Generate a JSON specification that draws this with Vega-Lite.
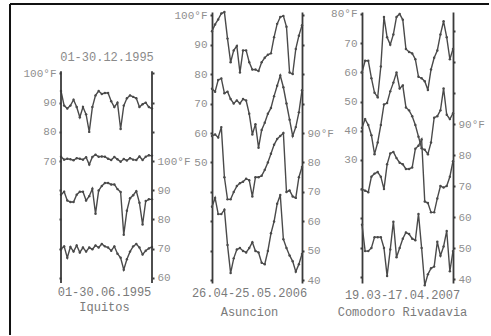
{
"$schema": "https://vega.github.io/schema/vega-lite/v6.json",
"background": "white",
"padding": {"left": 9, "top": 2, "right": 0, "bottom": 0},
"autosize": {"type": "pad"},
"bounds": "flush",
"spacing": 60,
"config": {
  "view": {"stroke": null},
  "axis": {"labelFont": "Liberation Mono", "labelFontSize": 11, "labelColor": "#8f8f8f", "domainColor": "#3a3a3a", "domainWidth": 1.8, "tickColor": "#3a3a3a", "tickWidth": 2, "tickSize": 2, "labelPadding": 3, "grid": false, "labelOverlap": false, "titleFont": "Liberation Mono", "titleFontSize": 12, "titleFontWeight": "normal", "titleColor": "#7a7a7a"}
},
"datasets": {
"iquitos": [
{"s":"Dec max","d":1,"t":94},{"s":"Dec max","d":2,"t":89},{"s":"Dec max","d":3,"t":88},{"s":"Dec max","d":4,"t":89},{"s":"Dec max","d":5,"t":91},{"s":"Dec max","d":6,"t":88.5},{"s":"Dec max","d":7,"t":85},{"s":"Dec max","d":8,"t":88.5},{"s":"Dec max","d":9,"t":86},{"s":"Dec max","d":10,"t":80},{"s":"Dec max","d":11,"t":88.5},{"s":"Dec max","d":12,"t":92.5},{"s":"Dec max","d":13,"t":94},{"s":"Dec max","d":14,"t":93},{"s":"Dec max","d":15,"t":93.3},{"s":"Dec max","d":16,"t":93.3},{"s":"Dec max","d":17,"t":90.5},{"s":"Dec max","d":18,"t":88.5},{"s":"Dec max","d":19,"t":90},{"s":"Dec max","d":20,"t":81},{"s":"Dec max","d":21,"t":89},{"s":"Dec max","d":22,"t":91.5},{"s":"Dec max","d":23,"t":92.5},{"s":"Dec max","d":24,"t":92},{"s":"Dec max","d":25,"t":91.5},{"s":"Dec max","d":26,"t":88.5},{"s":"Dec max","d":27,"t":89.5},{"s":"Dec max","d":28,"t":90},{"s":"Dec max","d":29,"t":88.5},{"s":"Dec max","d":30,"t":88},
{"s":"Dec min","d":1,"t":71.5},{"s":"Dec min","d":2,"t":70.5},{"s":"Dec min","d":3,"t":70.8},{"s":"Dec min","d":4,"t":70.6},{"s":"Dec min","d":5,"t":70.3},{"s":"Dec min","d":6,"t":71},{"s":"Dec min","d":7,"t":70.8},{"s":"Dec min","d":8,"t":70.5},{"s":"Dec min","d":9,"t":71.3},{"s":"Dec min","d":10,"t":68.8},{"s":"Dec min","d":11,"t":71.4},{"s":"Dec min","d":12,"t":72.2},{"s":"Dec min","d":13,"t":71.5},{"s":"Dec min","d":14,"t":71.6},{"s":"Dec min","d":15,"t":71.5},{"s":"Dec min","d":16,"t":70.8},{"s":"Dec min","d":17,"t":70.4},{"s":"Dec min","d":18,"t":71.4},{"s":"Dec min","d":19,"t":70.6},{"s":"Dec min","d":20,"t":69.8},{"s":"Dec min","d":21,"t":70.7},{"s":"Dec min","d":22,"t":70.2},{"s":"Dec min","d":23,"t":71},{"s":"Dec min","d":24,"t":70.5},{"s":"Dec min","d":25,"t":70.4},{"s":"Dec min","d":26,"t":71.6},{"s":"Dec min","d":27,"t":70.4},{"s":"Dec min","d":28,"t":71.5},{"s":"Dec min","d":29,"t":72},{"s":"Dec min","d":30,"t":71.8},
{"s":"Jun max","d":1,"t":88.5},{"s":"Jun max","d":2,"t":89.5},{"s":"Jun max","d":3,"t":86.5},{"s":"Jun max","d":4,"t":86},{"s":"Jun max","d":5,"t":86},{"s":"Jun max","d":6,"t":88.5},{"s":"Jun max","d":7,"t":89.5},{"s":"Jun max","d":8,"t":89.5},{"s":"Jun max","d":9,"t":86.5},{"s":"Jun max","d":10,"t":88},{"s":"Jun max","d":11,"t":90.5},{"s":"Jun max","d":12,"t":82},{"s":"Jun max","d":13,"t":89.9},{"s":"Jun max","d":14,"t":91.5},{"s":"Jun max","d":15,"t":92.5},{"s":"Jun max","d":16,"t":92.5},{"s":"Jun max","d":17,"t":92},{"s":"Jun max","d":18,"t":92},{"s":"Jun max","d":19,"t":90.4},{"s":"Jun max","d":20,"t":89.4},{"s":"Jun max","d":21,"t":74.8},{"s":"Jun max","d":22,"t":83},{"s":"Jun max","d":23,"t":87.3},{"s":"Jun max","d":24,"t":88.3},{"s":"Jun max","d":25,"t":89.7},{"s":"Jun max","d":26,"t":85.7},{"s":"Jun max","d":27,"t":78.3},{"s":"Jun max","d":28,"t":86.3},{"s":"Jun max","d":29,"t":86.9},{"s":"Jun max","d":30,"t":86.9},
{"s":"Jun min","d":1,"t":69.8},{"s":"Jun min","d":2,"t":70.8},{"s":"Jun min","d":3,"t":66.9},{"s":"Jun min","d":4,"t":70.6},{"s":"Jun min","d":5,"t":69},{"s":"Jun min","d":6,"t":71.1},{"s":"Jun min","d":7,"t":68.7},{"s":"Jun min","d":8,"t":70.4},{"s":"Jun min","d":9,"t":69},{"s":"Jun min","d":10,"t":70.4},{"s":"Jun min","d":11,"t":69.8},{"s":"Jun min","d":12,"t":71.1},{"s":"Jun min","d":13,"t":70.4},{"s":"Jun min","d":14,"t":71.6},{"s":"Jun min","d":15,"t":70.8},{"s":"Jun min","d":16,"t":70.4},{"s":"Jun min","d":17,"t":69.3},{"s":"Jun min","d":18,"t":70.8},{"s":"Jun min","d":19,"t":68.3},{"s":"Jun min","d":20,"t":66.9},{"s":"Jun min","d":21,"t":62.8},{"s":"Jun min","d":22,"t":66.4},{"s":"Jun min","d":23,"t":69},{"s":"Jun min","d":24,"t":70.8},{"s":"Jun min","d":25,"t":71.6},{"s":"Jun min","d":26,"t":70.4},{"s":"Jun min","d":27,"t":68},{"s":"Jun min","d":28,"t":69.3},{"s":"Jun min","d":29,"t":70.1},{"s":"Jun min","d":30,"t":70.6}
],
"asuncion": [
{"s":"s1","d":1,"t":94.5},{"s":"s1","d":2,"t":96.8},{"s":"s1","d":3,"t":98.5},{"s":"s1","d":4,"t":100.5},{"s":"s1","d":5,"t":101},{"s":"s1","d":6,"t":92},{"s":"s1","d":7,"t":84},{"s":"s1","d":8,"t":88},{"s":"s1","d":9,"t":89.5},{"s":"s1","d":10,"t":80.5},{"s":"s1","d":11,"t":88},{"s":"s1","d":12,"t":88},{"s":"s1","d":13,"t":84},{"s":"s1","d":14,"t":81.5},{"s":"s1","d":15,"t":81.5},{"s":"s1","d":16,"t":81},{"s":"s1","d":17,"t":84},{"s":"s1","d":18,"t":85.5},{"s":"s1","d":19,"t":86.5},{"s":"s1","d":20,"t":87},{"s":"s1","d":21,"t":92.5},{"s":"s1","d":22,"t":97},{"s":"s1","d":23,"t":99.3},{"s":"s1","d":24,"t":99.7},{"s":"s1","d":25,"t":96},{"s":"s1","d":26,"t":80.5},{"s":"s1","d":27,"t":80},{"s":"s1","d":28,"t":88.5},{"s":"s1","d":29,"t":93},{"s":"s1","d":30,"t":96.5},
{"s":"s2","d":1,"t":75},{"s":"s2","d":2,"t":74},{"s":"s2","d":3,"t":78},{"s":"s2","d":4,"t":78.5},{"s":"s2","d":5,"t":73.5},{"s":"s2","d":6,"t":74},{"s":"s2","d":7,"t":71.5},{"s":"s2","d":8,"t":70},{"s":"s2","d":9,"t":71},{"s":"s2","d":10,"t":70},{"s":"s2","d":11,"t":71.5},{"s":"s2","d":12,"t":71},{"s":"s2","d":13,"t":66.5},{"s":"s2","d":14,"t":59.5},{"s":"s2","d":15,"t":63},{"s":"s2","d":16,"t":55},{"s":"s2","d":17,"t":61},{"s":"s2","d":18,"t":63.5},{"s":"s2","d":19,"t":66.5},{"s":"s2","d":20,"t":68.5},{"s":"s2","d":21,"t":72.5},{"s":"s2","d":22,"t":76},{"s":"s2","d":23,"t":79.5},{"s":"s2","d":24,"t":75.5},{"s":"s2","d":25,"t":70},{"s":"s2","d":26,"t":64.5},{"s":"s2","d":27,"t":59},{"s":"s2","d":28,"t":62},{"s":"s2","d":29,"t":67},{"s":"s2","d":30,"t":74.5},
{"s":"s3","d":1,"t":89},{"s":"s3","d":2,"t":89.5},{"s":"s3","d":3,"t":88.5},{"s":"s3","d":4,"t":92},{"s":"s3","d":5,"t":75},{"s":"s3","d":6,"t":67.5},{"s":"s3","d":7,"t":67.5},{"s":"s3","d":8,"t":70},{"s":"s3","d":9,"t":72},{"s":"s3","d":10,"t":73},{"s":"s3","d":11,"t":73.5},{"s":"s3","d":12,"t":74.5},{"s":"s3","d":13,"t":74},{"s":"s3","d":14,"t":68.5},{"s":"s3","d":15,"t":75},{"s":"s3","d":16,"t":75},{"s":"s3","d":17,"t":75.5},{"s":"s3","d":18,"t":77.5},{"s":"s3","d":19,"t":80},{"s":"s3","d":20,"t":83},{"s":"s3","d":21,"t":86},{"s":"s3","d":22,"t":88},{"s":"s3","d":23,"t":89},{"s":"s3","d":24,"t":90},{"s":"s3","d":25,"t":70},{"s":"s3","d":26,"t":70.5},{"s":"s3","d":27,"t":68.5},{"s":"s3","d":28,"t":68},{"s":"s3","d":29,"t":75},{"s":"s3","d":30,"t":78.5},
{"s":"s4","d":1,"t":65},{"s":"s4","d":2,"t":68},{"s":"s4","d":3,"t":62.5},{"s":"s4","d":4,"t":62.5},{"s":"s4","d":5,"t":64},{"s":"s4","d":6,"t":52},{"s":"s4","d":7,"t":42.5},{"s":"s4","d":8,"t":47.5},{"s":"s4","d":9,"t":50.5},{"s":"s4","d":10,"t":51},{"s":"s4","d":11,"t":50},{"s":"s4","d":12,"t":49.5},{"s":"s4","d":13,"t":51},{"s":"s4","d":14,"t":53},{"s":"s4","d":15,"t":50},{"s":"s4","d":16,"t":49.5},{"s":"s4","d":17,"t":46},{"s":"s4","d":18,"t":45.5},{"s":"s4","d":19,"t":50},{"s":"s4","d":20,"t":56},{"s":"s4","d":21,"t":60},{"s":"s4","d":22,"t":66},{"s":"s4","d":23,"t":69},{"s":"s4","d":24,"t":54},{"s":"s4","d":25,"t":51},{"s":"s4","d":26,"t":48.5},{"s":"s4","d":27,"t":46.5},{"s":"s4","d":28,"t":43},{"s":"s4","d":29,"t":45.5},{"s":"s4","d":30,"t":49}
],
"comodoro": [
{"s":"s1","d":1,"t":60},{"s":"s1","d":2,"t":64},{"s":"s1","d":3,"t":64},{"s":"s1","d":4,"t":58},{"s":"s1","d":5,"t":53},{"s":"s1","d":6,"t":51.5},{"s":"s1","d":7,"t":62},{"s":"s1","d":8,"t":79},{"s":"s1","d":9,"t":72},{"s":"s1","d":10,"t":69.5},{"s":"s1","d":11,"t":73},{"s":"s1","d":12,"t":79},{"s":"s1","d":13,"t":80},{"s":"s1","d":14,"t":78},{"s":"s1","d":15,"t":68},{"s":"s1","d":16,"t":67},{"s":"s1","d":17,"t":66.5},{"s":"s1","d":18,"t":64.5},{"s":"s1","d":19,"t":58.5},{"s":"s1","d":20,"t":58},{"s":"s1","d":21,"t":57},{"s":"s1","d":22,"t":54},{"s":"s1","d":23,"t":61},{"s":"s1","d":24,"t":65},{"s":"s1","d":25,"t":67.5},{"s":"s1","d":26,"t":73},{"s":"s1","d":27,"t":77.5},{"s":"s1","d":28,"t":72},{"s":"s1","d":29,"t":64.5},{"s":"s1","d":30,"t":68},
{"s":"s2","d":1,"t":41},{"s":"s2","d":2,"t":44},{"s":"s2","d":3,"t":42},{"s":"s2","d":4,"t":38.5},{"s":"s2","d":5,"t":32},{"s":"s2","d":6,"t":36},{"s":"s2","d":7,"t":42},{"s":"s2","d":8,"t":49},{"s":"s2","d":9,"t":49.5},{"s":"s2","d":10,"t":53.5},{"s":"s2","d":11,"t":56.5},{"s":"s2","d":12,"t":60},{"s":"s2","d":13,"t":54.5},{"s":"s2","d":14,"t":55.5},{"s":"s2","d":15,"t":48},{"s":"s2","d":16,"t":47},{"s":"s2","d":17,"t":45},{"s":"s2","d":18,"t":42},{"s":"s2","d":19,"t":38},{"s":"s2","d":20,"t":34},{"s":"s2","d":21,"t":33.5},{"s":"s2","d":22,"t":32},{"s":"s2","d":23,"t":36},{"s":"s2","d":24,"t":44.5},{"s":"s2","d":25,"t":45},{"s":"s2","d":26,"t":47},{"s":"s2","d":27,"t":54.5},{"s":"s2","d":28,"t":45.5},{"s":"s2","d":29,"t":44},{"s":"s2","d":30,"t":46},
{"s":"s3","d":1,"t":69},{"s":"s3","d":2,"t":68.5},{"s":"s3","d":3,"t":68},{"s":"s3","d":4,"t":73},{"s":"s3","d":5,"t":74},{"s":"s3","d":6,"t":74.5},{"s":"s3","d":7,"t":73},{"s":"s3","d":8,"t":69},{"s":"s3","d":9,"t":77},{"s":"s3","d":10,"t":80.5},{"s":"s3","d":11,"t":81},{"s":"s3","d":12,"t":79},{"s":"s3","d":13,"t":77.5},{"s":"s3","d":14,"t":77},{"s":"s3","d":15,"t":75.5},{"s":"s3","d":16,"t":75.5},{"s":"s3","d":17,"t":76},{"s":"s3","d":18,"t":82},{"s":"s3","d":19,"t":83},{"s":"s3","d":20,"t":85},{"s":"s3","d":21,"t":65},{"s":"s3","d":22,"t":64.5},{"s":"s3","d":23,"t":61.5},{"s":"s3","d":24,"t":61.5},{"s":"s3","d":25,"t":66},{"s":"s3","d":26,"t":70},{"s":"s3","d":27,"t":69.5},{"s":"s3","d":28,"t":70},{"s":"s3","d":29,"t":73},{"s":"s3","d":30,"t":78},
{"s":"s4","d":1,"t":57.5},{"s":"s4","d":2,"t":49},{"s":"s4","d":3,"t":49},{"s":"s4","d":4,"t":50},{"s":"s4","d":5,"t":53.5},{"s":"s4","d":6,"t":53.5},{"s":"s4","d":7,"t":53.5},{"s":"s4","d":8,"t":50},{"s":"s4","d":9,"t":41},{"s":"s4","d":10,"t":49.5},{"s":"s4","d":11,"t":58.5},{"s":"s4","d":12,"t":47},{"s":"s4","d":13,"t":50},{"s":"s4","d":14,"t":53},{"s":"s4","d":15,"t":55},{"s":"s4","d":16,"t":54.5},{"s":"s4","d":17,"t":53},{"s":"s4","d":18,"t":52.5},{"s":"s4","d":19,"t":61},{"s":"s4","d":20,"t":50},{"s":"s4","d":21,"t":38},{"s":"s4","d":22,"t":41.5},{"s":"s4","d":23,"t":43.5},{"s":"s4","d":24,"t":44},{"s":"s4","d":25,"t":52},{"s":"s4","d":26,"t":47.5},{"s":"s4","d":27,"t":50.5},{"s":"s4","d":28,"t":55.5},{"s":"s4","d":29,"t":42.5},{"s":"s4","d":30,"t":49}
]
},
"hconcat": [
{
  "width": 91, "height": 271,
  "data": {"name": "iquitos"},
  "layer": [
    {
      "transform": [{"filter": {"field": "s", "oneOf": ["Dec max", "Dec min"]}}],
      "mark": {"type": "line", "color": "#4a4a4a", "strokeWidth": 1.4, "point": {"filled": true, "size": 6, "color": "#4a4a4a"}},
      "encoding": {
        "x": {"field": "d", "type": "quantitative", "scale": {"domain": [1, 30], "nice": false, "zero": false}, "axis": {"domain": false, "ticks": false, "labels": false, "title": ["01-30.06.1995", "Iquitos\u00a0\u00a0"], "titlePadding": 3, "titleLineHeight": 15, "titleX": 43}},
        "y": {"field": "t", "type": "quantitative", "scale": {"domain": [28.25, 121.06], "nice": false, "zero": false}, "axis": {"orient": "left", "domain": false, "title": null, "values": [30, 40, 50, 60, 70, 80, 90, 100], "labelExpr": "datum.value == 100 ? '100°F' : (datum.value >= 70 ? datum.label : '')"}},
        "detail": {"field": "s"}
      }
    },
    {
      "transform": [{"filter": {"field": "s", "oneOf": ["Jun max", "Jun min"]}}],
      "mark": {"type": "line", "color": "#4a4a4a", "strokeWidth": 1.4, "point": {"filled": true, "size": 6, "color": "#4a4a4a"}},
      "encoding": {
        "x": {"field": "d", "type": "quantitative", "scale": {"domain": [1, 30], "nice": false, "zero": false}, "axis": {"domain": false, "ticks": false, "labels": false, "title": ["01-30.06.1995", "Iquitos\u00a0\u00a0"], "titlePadding": 3, "titleLineHeight": 15, "titleX": 43}},
        "y": {"field": "t", "type": "quantitative", "scale": {"domain": [58.25, 151.06], "nice": false, "zero": false}, "axis": {"orient": "right", "domain": false, "title": null, "values": [60, 70, 80, 90, 100, 110, 120, 130], "labelExpr": "datum.value == 100 ? '100°F' : (datum.value <= 100 ? datum.label : '')"}},
        "detail": {"field": "s"}
      }
    },
    {
      "data": {"values": [{}]},
      "mark": {"type": "rule", "color": "#3a3a3a", "strokeWidth": 1.8, "clip": false},
      "encoding": {
        "x": {"datum": 1, "type": "quantitative", "scale": {"domain": [1, 30], "nice": false, "zero": false}, "axis": {"domain": false, "ticks": false, "labels": false, "title": ["01-30.06.1995", "Iquitos\u00a0\u00a0"], "titlePadding": 3, "titleLineHeight": 15, "titleX": 43}},
        "y": {"datum": 28.25, "type": "quantitative", "scale": {"domain": [28.25, 121.06], "nice": false, "zero": false}, "axis": null},
        "y2": {"datum": 100.8}
      }
    },
    {
      "data": {"values": [{}]},
      "mark": {"type": "rule", "color": "#3a3a3a", "strokeWidth": 1.8, "clip": false},
      "encoding": {
        "x": {"datum": 30, "type": "quantitative", "scale": {"domain": [1, 30], "nice": false, "zero": false}, "axis": {"domain": false, "ticks": false, "labels": false, "title": ["01-30.06.1995", "Iquitos\u00a0\u00a0"], "titlePadding": 3, "titleLineHeight": 15, "titleX": 43}},
        "y": {"datum": 28.25, "type": "quantitative", "scale": {"domain": [28.25, 121.06], "nice": false, "zero": false}, "axis": null},
        "y2": {"datum": 100.8}
      }
    },
    {
      "data": {"values": [{}]},
      "mark": {"type": "rule", "color": "#111111", "strokeWidth": 2, "clip": false},
      "encoding": {
        "x": {"datum": -15.25, "type": "quantitative", "scale": {"domain": [1, 30], "nice": false, "zero": false}, "axis": {"domain": false, "ticks": false, "labels": false, "title": ["01-30.06.1995", "Iquitos\u00a0\u00a0"], "titlePadding": 3, "titleLineHeight": 15, "titleX": 43}},
        "x2": {"datum": 137.4},
        "y": {"datum": 123.8, "type": "quantitative", "scale": {"domain": [28.25, 121.06], "nice": false, "zero": false}, "axis": null}
      }
    },
    {
      "data": {"values": [{}]},
      "mark": {"type": "rule", "color": "#111111", "strokeWidth": 2, "clip": false},
      "encoding": {
        "x": {"datum": -15.25, "type": "quantitative", "scale": {"domain": [1, 30], "nice": false, "zero": false}, "axis": {"domain": false, "ticks": false, "labels": false, "title": ["01-30.06.1995", "Iquitos\u00a0\u00a0"], "titlePadding": 3, "titleLineHeight": 15, "titleX": 43}},
        "y": {"datum": 123.8, "type": "quantitative", "scale": {"domain": [28.25, 121.06], "nice": false, "zero": false}, "axis": null},
        "y2": {"datum": 10.45}
      }
    },
    {
      "data": {"values": [{}]},
      "mark": {"type": "text", "text": "01-30.12.1995", "font": "Liberation Mono", "fontSize": 12, "color": "#8a8a8a", "align": "center", "baseline": "middle", "clip": false},
      "encoding": {
        "x": {"datum": 15.66, "type": "quantitative", "scale": {"domain": [1, 30], "nice": false, "zero": false}, "axis": {"domain": false, "ticks": false, "labels": false, "title": ["01-30.06.1995", "Iquitos\u00a0\u00a0"], "titlePadding": 3, "titleLineHeight": 15, "titleX": 43}},
        "y": {"datum": 105.65, "type": "quantitative", "scale": {"domain": [28.25, 121.06], "nice": false, "zero": false}, "axis": null}
      }
    }
  ],
  "resolve": {"scale": {"y": "independent"}}
},
{
  "width": 90, "height": 271,
  "data": {"name": "asuncion"},
  "layer": [
    {
      "transform": [{"filter": {"field": "s", "oneOf": ["s1", "s2"]}}],
      "mark": {"type": "line", "color": "#4a4a4a", "strokeWidth": 1.4, "clip": false, "point": {"filled": true, "size": 6, "color": "#4a4a4a", "clip": false}},
      "encoding": {
        "x": {"field": "d", "type": "quantitative", "scale": {"domain": [1, 30], "nice": false, "zero": false}, "axis": {"domain": false, "ticks": false, "labels": false, "title": ["26.04-25.05.2006", "Asuncion"], "titlePadding": 4, "titleLineHeight": 19, "titleX": 37}},
        "y": {"field": "t", "type": "quantitative", "scale": {"domain": [9.15, 101.02], "nice": false, "zero": false}, "axis": {"orient": "left", "title": null, "values": [10, 20, 30, 40, 50, 60, 70, 80, 90, 100], "labelExpr": "datum.value == 100 ? '100°F' : (datum.value >= 50 ? datum.label : '')"}},
        "detail": {"field": "s"}
      }
    },
    {
      "transform": [{"filter": {"field": "s", "oneOf": ["s3", "s4"]}}],
      "mark": {"type": "line", "color": "#4a4a4a", "strokeWidth": 1.4, "point": {"filled": true, "size": 6, "color": "#4a4a4a"}},
      "encoding": {
        "x": {"field": "d", "type": "quantitative", "scale": {"domain": [1, 30], "nice": false, "zero": false}, "axis": {"domain": false, "ticks": false, "labels": false, "title": ["26.04-25.05.2006", "Asuncion"], "titlePadding": 4, "titleLineHeight": 19, "titleX": 37}},
        "y": {"field": "t", "type": "quantitative", "scale": {"domain": [39.15, 131.02], "nice": false, "zero": false}, "axis": {"orient": "right", "title": null, "values": [40, 50, 60, 70, 80, 90, 100, 110, 120, 130], "labelExpr": "datum.value == 90 ? '90°F' : (datum.value <= 90 ? datum.label : '')"}},
        "detail": {"field": "s"}
      }
    }
  ],
  "resolve": {"scale": {"y": "independent"}}
},
{
  "width": 91, "height": 271,
  "data": {"name": "comodoro"},
  "layer": [
    {
      "transform": [{"filter": {"field": "s", "oneOf": ["s1", "s2"]}}],
      "mark": {"type": "line", "color": "#4a4a4a", "strokeWidth": 1.4, "point": {"filled": true, "size": 6, "color": "#4a4a4a"}},
      "encoding": {
        "x": {"field": "d", "type": "quantitative", "scale": {"domain": [1, 30], "nice": false, "zero": false}, "axis": {"domain": false, "ticks": false, "labels": false, "title": ["19.03-17.04.2007", "Comodoro Rivadavia"], "titlePadding": 6, "titleLineHeight": 17, "titleX": 40}},
        "y": {"field": "t", "type": "quantitative", "scale": {"domain": [-12.12, 80.68], "nice": false, "zero": false}, "axis": {"orient": "left", "title": null, "values": [-10, 0, 10, 20, 30, 40, 50, 60, 70, 80], "labelExpr": "datum.value == 80 ? '80°F' : (datum.value >= 30 ? datum.label : '')"}},
        "detail": {"field": "s"}
      }
    },
    {
      "transform": [{"filter": {"field": "s", "oneOf": ["s3", "s4"]}}],
      "mark": {"type": "line", "color": "#4a4a4a", "strokeWidth": 1.4, "point": {"filled": true, "size": 6, "color": "#4a4a4a"}},
      "encoding": {
        "x": {"field": "d", "type": "quantitative", "scale": {"domain": [1, 30], "nice": false, "zero": false}, "axis": {"domain": false, "ticks": false, "labels": false, "title": ["19.03-17.04.2007", "Comodoro Rivadavia"], "titlePadding": 6, "titleLineHeight": 17, "titleX": 40}},
        "y": {"field": "t", "type": "quantitative", "scale": {"domain": [38.71, 126.13], "nice": false, "zero": false}, "axis": {"orient": "right", "title": null, "values": [40, 50, 60, 70, 80, 90, 100, 110, 120], "labelExpr": "datum.value == 90 ? '90°F' : (datum.value <= 90 ? datum.label : '')"}},
        "detail": {"field": "s"}
      }
    }
  ],
  "resolve": {"scale": {"y": "independent"}}
}
]
}
